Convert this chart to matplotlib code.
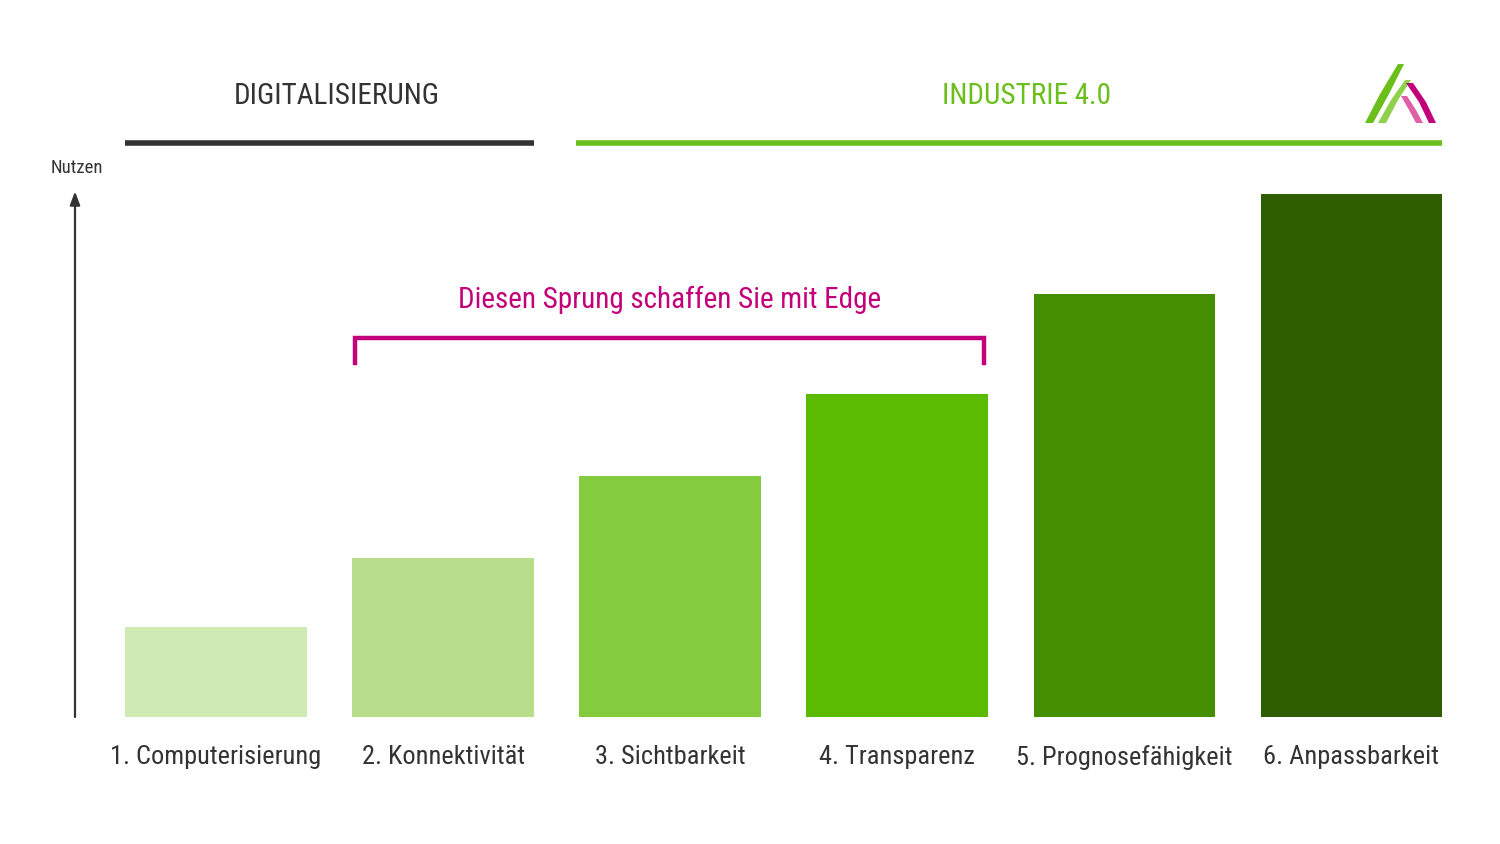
import matplotlib
matplotlib.use("Agg")
import matplotlib.pyplot as plt
from matplotlib import font_manager
from matplotlib.font_manager import FontProperties
import matplotlib.transforms as mtransforms

# ---------------- data ----------------
categories = ["1. Computerisierung", "2. Konnektivität", "3. Sichtbarkeit",
              "4. Transparenz", "5. Prognosefähigkeit", "6. Anpassbarkeit"]
nutzen = [0.90, 1.59, 2.41, 3.23, 4.23, 5.23]
bar_colors = ["#d0eab3", "#b8de8c", "#84cb3e", "#5bbb00", "#448e00", "#2e5e00"]
header_left = "DIGITALISIERUNG"
header_right = "INDUSTRIE 4.0"
y_label = "Nutzen"
bracket_text = "Diesen Sprung schaffen Sie mit Edge"

# ---------------- font ----------------
def pick_font():
    prefs = ["Roboto Condensed", "Liberation Sans Narrow", "Open Sans Condensed",
             "Noto Sans Condensed", "DejaVu Sans Condensed"]
    fl = font_manager.fontManager.ttflist
    for p in prefs:
        for f in fl:
            if f.name == p and f.weight in (400, "normal", "regular") and f.style == "normal":
                return FontProperties(fname=f.fname)
    for f in fl:
        if f.name == "DejaVu Sans" and str(f.stretch) in ("condensed", "semi-condensed") \
                and f.style == "normal" and f.weight in (400, "normal"):
            return FontProperties(fname=f.fname)
    for f in fl:
        if ("Condensed" in f.name or "Narrow" in f.name) and f.style == "normal":
            return FontProperties(fname=f.fname)
    return FontProperties(family="Roboto")

FP = pick_font()

def fp(size):
    p = FP.copy()
    p.set_size(size)
    return p

DARK = "#333333"
GREEN = "#6abf1a"
MAGENTA = "#c2007a"

W, H = 1500, 844
fig = plt.figure(figsize=(15, 8.44), dpi=100)
fig.patch.set_facecolor("white")

left_px, right_px, base_px, top_px = 75, 1443, 717, 194
ax = fig.add_axes([left_px / W, (H - base_px) / H,
                   (right_px - left_px) / W, (base_px - top_px) / H])

x = list(range(len(categories)))
ax.bar(x, nutzen, width=0.80, color=bar_colors, zorder=2)
ax.set_xlim(-0.621, 5.403)
ax.set_ylim(0, 5.23)

for s in ["top", "right", "bottom", "left"]:
    ax.spines[s].set_visible(False)
ax.set_yticks([])
ax.set_xticks(x)
ax.set_xticklabels(categories, fontproperties=fp(19), color=DARK)
ax.tick_params(axis="x", length=0, pad=20)

# y axis arrow
ax.annotate("", xy=(0, 1.005), xytext=(0, 0), xycoords="axes fraction",
            textcoords="axes fraction",
            arrowprops=dict(arrowstyle="-|>,head_length=0.8,head_width=0.3",
                            color=DARK, lw=1.6, shrinkA=0, shrinkB=0),
            annotation_clip=False)
ax.text(0.0015, 1.05, y_label, transform=ax.transAxes, ha="center", va="center",
        fontproperties=fp(13.5), color=DARK)

# headers
trans = mtransforms.blended_transform_factory(ax.transData, ax.transAxes)
hy = (base_px - 143) / (base_px - top_px)
ty = (base_px - 96) / (base_px - top_px)
ax.plot([-0.4, 1.4], [hy, hy], transform=trans, color=DARK, lw=4, clip_on=False,
        solid_capstyle="butt")
ax.plot([1.585, 5.4], [hy, hy], transform=trans, color=GREEN, lw=4, clip_on=False,
        solid_capstyle="butt")
ax.text(0.53, ty, header_left, transform=trans, ha="center", va="center",
        fontproperties=fp(21), color=DARK)
ax.text(3.57, ty, header_right, transform=trans, ha="center", va="center",
        fontproperties=fp(21), color=GREEN)

# bracket
by = (base_px - 338) / (base_px - top_px)
bl = (base_px - 363) / (base_px - top_px)
btx = (base_px - 300) / (base_px - top_px)
ax.plot([0.612, 0.612, 3.383, 3.383], [bl, by, by, bl], transform=trans,
        color=MAGENTA, lw=3.2, clip_on=False, solid_joinstyle="miter")
ax.text(1.997, btx, bracket_text, transform=trans, ha="center", va="center",
        fontproperties=fp(21), color=MAGENTA)

# logo (decorative)
lax = fig.add_axes([1362 / W, (H - 126) / H, 76 / W, 64 / H])
lax.set_xlim(0, 76)
lax.set_ylim(0, 64)
lax.axis("off")
lax.fill([3, 11, 27, 42, 36, 18], [3, 3, 32, 62, 62, 32], color="#6abf1a", lw=0)
lax.fill([16, 24, 36, 49, 43, 29], [3, 3, 26, 46, 46, 26], color="#8fd14a", lw=0)
lax.fill([44, 51, 64, 74, 67, 57], [43, 43, 24, 3, 3, 24], color="#c2007a", lw=0)
lax.fill([39, 45, 54, 61, 54, 47], [30, 30, 16, 3, 3, 16], color="#e060a8", lw=0)

fig.savefig("out.png", dpi=100, facecolor="white")
